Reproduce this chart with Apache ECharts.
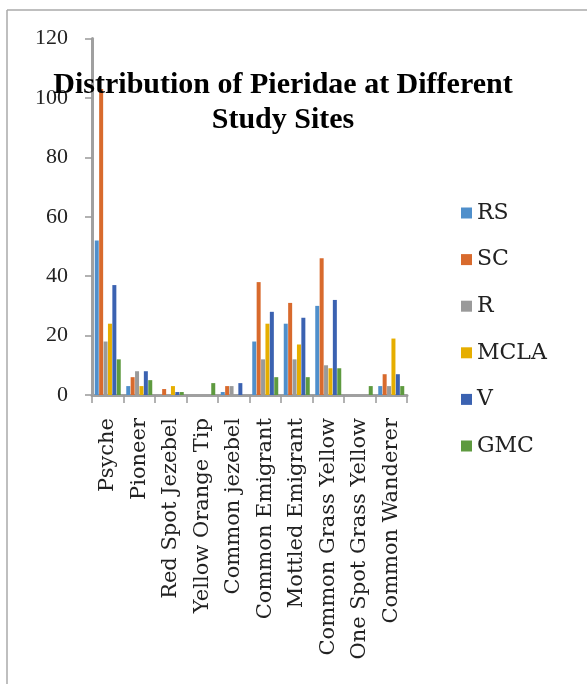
<!DOCTYPE html>
<html>
<head>
<meta charset="utf-8">
<script src="https://cdn.jsdelivr.net/npm/echarts@6/dist/echarts.min.js"></script>
<style>
  html, body { margin: 0; padding: 0; background: #fff; }
  #main { width: 587px; height: 684px; }
</style>
</head>
<body>
<div id="main"></div>
<script>
// butterfly species (categories)
const species = ['Psyche', 'Pioneer', 'Red Spot Jezebel', 'Yellow Orange Tip', 'Common jezebel',
  'Common Emigrant', 'Mottled Emigrant', 'Common Grass Yellow', 'One Spot Grass Yellow', 'Common Wanderer'];

// counts per study site
const RS   = [52, 3, 0, 0, 1, 18, 24, 30, 0, 3];
const SC   = [103, 6, 2, 0, 3, 38, 31, 46, 0, 7];
const R    = [18, 8, 0, 0, 3, 12, 12, 10, 0, 3];
const MCLA = [24, 3, 3, 0, 0, 24, 17, 9, 0, 19];
const V    = [37, 8, 1, 0, 4, 28, 26, 32, 0, 7];
const GMC  = [12, 5, 1, 4, 0, 6, 6, 9, 3, 3];

const sites = ['RS', 'SC', 'R', 'MCLA', 'V', 'GMC'];
const siteData = [RS, SC, R, MCLA, V, GMC];
const colors = ['#4F8FCB', '#D86A2D', '#9A9A9A', '#E6AE00', '#3B62B1', '#5E9A3F'];

let chart = echarts.init(document.getElementById('main'));

let option = {
  backgroundColor: '#fff',
  color: colors,
  title: {
    text: 'Distribution of Pieridae at Different\nStudy Sites',
    left: 278,
    top: 63,
    textAlign: 'center',
    textStyle: {
      fontFamily: 'Liberation Serif',
      fontWeight: 'bold',
      fontSize: 30,
      lineHeight: 35,
      color: '#000'
    }
  },
  legend: {
    orient: 'vertical',
    left: 456,
    top: 197,
    itemWidth: 11,
    itemHeight: 11,
    itemGap: 24.6,
    icon: 'rect',
    textStyle: {
      fontFamily: 'DejaVu Serif',
      fontSize: 22,
      lineHeight: 22,
      color: '#222'
    },
    data: sites
  },
  grid: {
    left: 92,
    top: 38.5,
    right: 180,
    bottom: 289,
    containLabel: false
  },
  xAxis: {
    type: 'category',
    data: species,
    axisLine: { lineStyle: { color: '#A0A0A0', width: 3 } },
    axisTick: { show: true, length: 8, lineStyle: { color: '#999', width: 1.5 } },
    axisLabel: {
      rotate: 90,
      interval: 0,
      margin: 23,
      fontFamily: 'DejaVu Serif',
      fontSize: 21,
      color: '#222'
    }
  },
  yAxis: {
    type: 'value',
    min: 0,
    max: 120,
    interval: 20,
    axisLine: { show: true, lineStyle: { color: '#A0A0A0', width: 3 } },
    axisTick: { show: true, length: 7, lineStyle: { color: '#999', width: 1.5 } },
    splitLine: { show: false },
    axisLabel: {
      margin: 24,
      fontFamily: 'Liberation Serif',
      fontSize: 22,
      color: '#222'
    }
  },
  graphic: [
    { type: 'line', shape: { x1: 7, y1: 10, x2: 7, y2: 684 }, style: { stroke: '#aaa', lineWidth: 1.5 } },
    { type: 'line', shape: { x1: 7, y1: 10, x2: 587, y2: 10 }, style: { stroke: '#aaa', lineWidth: 1.5 } }
  ],
  series: sites.map((name, i) => ({
    name: name,
    type: 'bar',
    data: siteData[i],
    barWidth: 4,
    barGap: '10%',
    barCategoryGap: '15%'
  }))
};

chart.setOption(option);
</script>
</body>
</html>
